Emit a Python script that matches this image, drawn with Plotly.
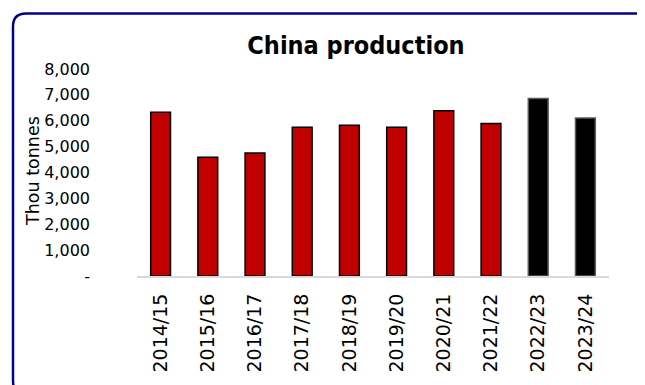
import plotly.graph_objects as go

categories = ["2014/15", "2015/16", "2016/17", "2017/18", "2018/19",
              "2019/20", "2020/21", "2021/22", "2022/23", "2023/24"]
production = [6330, 4590, 4750, 5750, 5830, 5750, 6390, 5890, 6860, 6110]
bar_colors = ["#C00000"] * 8 + ["#000000"] * 2
line_colors = ["#000000"] * 8 + ["#595959"] * 2

y_tickvals = [0, 1000, 2000, 3000, 4000, 5000, 6000, 7000, 8000]
y_ticktext = ["-", "1,000", "2,000", "3,000", "4,000", "5,000", "6,000", "7,000", "8,000"]

OFF = 8  # page body margin
W, H = 645, 385
# plot area in screenshot pixels
PL, PR, PT, PB = 137, 609, 69, 276
L, R, T, B = PL - OFF, W - (PR - OFF), PT - OFF, H - (PB - OFF)
pw, ph = W - L - R, H - T - B

def px(x):
    return (x - PL) / pw

def py(y):
    return (PB - y) / ph

fig = go.Figure()
fig.add_trace(go.Bar(
    x=categories, y=production,
    marker=dict(color=bar_colors, line=dict(color=line_colors, width=1.5)),
    width=0.42,
))

# rounded border
x0, x1 = px(13), px(660)
y0, y1 = py(394), py(13.5)
rx, ry = 13 / pw, 13 / ph
path = (f"M {x0+rx},{y1} L {x1-rx},{y1} Q {x1},{y1} {x1},{y1-ry} "
        f"L {x1},{y0+ry} Q {x1},{y0} {x1-rx},{y0} L {x0+rx},{y0} "
        f"Q {x0},{y0} {x0},{y0+ry} L {x0},{y1-ry} Q {x0},{y1} {x0+rx},{y1} Z")

fig.update_layout(
    width=W, height=H,
    margin=dict(l=L, r=R, t=T, b=B, pad=0),
    paper_bgcolor="white", plot_bgcolor="white",
    showlegend=False,
    font=dict(family="DejaVu Sans, Liberation Sans, sans-serif", size=16, color="black"),
    title=dict(text="<b>China production</b>", x=(356 - OFF) / W, xref="container", xanchor="center",
               y=1 - (45 - OFF) / H, yref="container", yanchor="middle",
               font=dict(family="DejaVu Sans Condensed, DejaVu Sans, sans-serif", size=25, color="black")),
    shapes=[dict(type="path", path=path, xref="paper", yref="paper",
                 line=dict(color="#00008B", width=2.5), layer="below")],
    annotations=[dict(text="Thou tonnes", textangle=-90, x=px(33), y=py(171),
                      xref="paper", yref="paper", xanchor="center", yanchor="middle",
                      showarrow=False, font=dict(size=17.5))],
    xaxis=dict(tickangle=-90, showline=True, linecolor="#D9D9D9", linewidth=2,
               ticks="", showgrid=False, tickfont=dict(size=19), ticklabelstandoff=8),
    yaxis=dict(range=[0, 8000], tickvals=y_tickvals, ticktext=y_ticktext,
               showgrid=False, zeroline=False, showline=False, ticks="",
               tickfont=dict(size=16), ticklabelstandoff=46),
)

fig.write_html("out.html")
